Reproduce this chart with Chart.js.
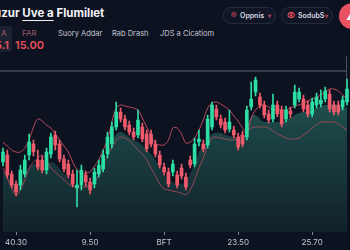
<!DOCTYPE html>
<html>
<head>
<meta charset="utf-8">
<script src="https://cdn.jsdelivr.net/npm/chart.js@4.4.1/dist/chart.umd.min.js"></script>
<style>
  html, body { margin: 0; padding: 0; }
  body { width: 350px; height: 250px; background: #0d1221; overflow: hidden; position: relative;
         font-family: "Inter", "Noto Sans", sans-serif; }
  .abs { position: absolute; white-space: nowrap; }
  #title { left: -6px; top: 6px; font-size: 11.5px; font-weight: 700; color: #f2f3f7; }
  #title u { text-decoration: underline; text-decoration-thickness: 1px; text-underline-offset: 3px; }
  .pill { position: absolute; top: 7px; height: 15px; border: 1px solid #262b3b; border-radius: 8px;
          background: #111627; font-size: 7px; font-weight: 600; color: #d8dbe4; }
  .pill span { position: absolute; top: 3px; }
  .menu { top: 29px; font-size: 7.5px; color: #c3c7d2; }
  #chartWrap { position: absolute; left: 0; top: 72px; width: 350px; height: 178px; }
</style>
</head>
<body>
<div class="abs" id="title">uzur <u>Uve a</u> Flumilıet</div>

<div class="abs" style="left:-8px;top:26px;width:20px;height:26px;background:#1b2131;border-radius:2px;"></div>
<div class="abs" style="left:1px;top:28px;font-size:8px;color:#9c5a6a;">A</div>
<div class="abs" style="left:-5px;top:38px;font-size:11px;font-weight:600;color:#e8505f;">5.1</div>
<div class="abs" style="left:22px;top:28px;font-size:8px;color:#9c5a6a;">FAR</div>
<div class="abs" style="left:15px;top:38px;font-size:11px;font-weight:600;color:#e8505f;">15.00</div>
<div class="abs menu" style="left:58px;">Suory Addar</div>
<div class="abs menu" style="left:112px;">Rab Drash</div>
<div class="abs menu" style="left:160px;">JDS a Cicatiom</div>

<div class="pill" style="left:223px;width:51px;">
  <span style="left:7px;top:2px;color:#e8505f;font-size:8px;">&#x2117;</span>
  <span style="left:16px;">Oppnis</span>
  <span style="left:44px;color:#b8455a;font-size:6px;top:4px;">&#9662;</span>
</div>
<div class="pill" style="left:281px;width:50px;">
  <span style="left:5px;top:2px;color:#e8505f;font-size:8px;">&#x29BF;</span>
  <span style="left:16px;">SodubS</span>
  <span style="left:43px;color:#b8455a;font-size:6px;top:4px;">&#9662;</span>
</div>
<div class="abs" style="left:339px;top:3px;width:26px;height:26px;border-radius:13px;background:#ea5262;"></div>
<div class="abs" style="left:346px;top:10px;font-size:10px;color:#ffffff;font-weight:700;">&#9650;</div>

<div class="abs" style="left:0;top:70px;width:347px;height:2px;background:#363b4a;"></div>
<div class="abs" style="left:346px;top:56px;width:1px;height:44px;background:#4a4f5e;"></div>

<div id="chartWrap"><canvas id="candles" width="350" height="178"></canvas></div>

<script>
const tickLabels = {3: '40.30', 20: '9.50', 37: 'BFT', 54: '23.50', 71: '25.70'};

const opens  = [70,77,58,48,47,58,77,88,72,72,62,78,97,88,73,68,58,44,47,57,
                50,48,58,63,78,88,105,120,113,107,100,97,105,98,98,88,77,65,60,60,
                57,64,55,72,68,90,88,87,105,123,113,110,103,102,95,97,95,125,140,135,
                127,118,113,127,122,113,121,127,133,133,127,118,127,128,133,138,127,127,125,130];
const closes = [80,57,47,40,62,72,90,80,65,62,80,95,87,73,63,57,48,47,62,50,
                42,60,67,77,95,105,120,113,105,100,95,112,93,83,88,78,67,60,48,68,
                47,56,45,67,88,93,83,113,127,115,107,102,110,97,85,88,122,133,152,127,
                117,112,127,118,108,122,118,140,140,123,118,130,135,132,141,123,120,120,132,143];
const highs  = [84,82,61,51,67,77,98,92,82,76,84,99,101,92,77,72,62,62,67,61,
                54,64,72,82,100,110,130,124,117,111,104,122,109,102,102,92,81,69,64,72,
                61,68,59,76,94,102,92,117,130,127,117,114,122,106,99,101,126,150,155,139,
                131,122,138,131,126,126,125,147,144,137,131,134,139,142,145,142,131,131,136,153];
const lows   = [66,54,44,36,42,55,72,76,62,59,58,74,82,70,60,54,45,25,42,46,
                38,44,55,60,74,84,102,110,102,97,92,94,90,80,85,75,64,57,45,56,
                44,53,42,64,65,86,80,84,102,112,104,99,100,94,82,85,92,122,136,124,
                114,109,110,115,105,110,114,124,130,120,115,115,124,125,130,120,117,117,122,127];

const upperBand = [90,86,82,80,80,84,92,105,113,111,107,104,98,92,86,80,70,62,58,59,
                   60,66,72,82,92,110,124,127,126,125,124,122,114,105,96,88,87,87,92,104,
                   104,98,89,90,94,102,112,124,129,130,128,125,122,116,111,104,100,114,122,126,
                   127,125,122,122,122,122,124,126,127,129,131,133,135,137,140,143,143,141,137,133];
const lowerBand = [64,54,44,37,42,52,64,70,74,77,72,64,60,56,52,48,46,45,45,45,
                   46,50,57,67,77,84,92,95,94,91,87,82,78,72,64,56,48,43,42,41,
                   40,39,37,42,52,64,74,86,94,95,94,93,92,92,94,98,101,104,105,105,
                   105,104,101,98,96,94,93,93,94,97,100,104,107,110,110,110,110,108,105,102];
const volumeArea = [62,56,50,46,50,56,64,68,66,64,66,70,68,63,58,54,50,46,46,48,
                    49,52,58,65,78,90,98,100,98,95,92,90,87,82,78,72,65,58,52,50,
                    48,48,50,58,68,80,86,92,98,99,99,97,96,95,94,95,100,116,117,113,
                    110,110,110,110,110,112,114,117,119,120,120,122,124,126,127,127,128,126,124,125];

const labels = opens.map((_, i) => tickLabels[i] || '');
const GREEN = '#2ddfa4';
const RED = '#ef5b6b';
const colors = opens.map((o, i) => closes[i] >= o ? GREEN : RED);

const ctx = document.getElementById('candles');

new Chart(ctx, {
  data: {
    labels: labels,
    datasets: [
      {
        type: 'bar',
        data: opens.map((o, i) => [o, closes[i]]),
        backgroundColor: colors,
        barThickness: 3,
        minBarLength: 1,
        grouped: false,
        order: 0
      },
      {
        type: 'bar',
        data: lows.map((l, i) => [l, highs[i]]),
        backgroundColor: colors,
        barThickness: 1,
        grouped: false,
        order: 1
      },
      {
        type: 'line',
        data: upperBand,
        borderColor: 'rgba(214,82,100,0.85)',
        borderWidth: 1,
        pointRadius: 0,
        tension: 0.35,
        order: 2
      },
      {
        type: 'line',
        data: lowerBand,
        borderColor: 'rgba(214,82,100,0.65)',
        borderWidth: 1,
        pointRadius: 0,
        tension: 0.35,
        order: 3
      },
      {
        type: 'line',
        data: volumeArea,
        borderWidth: 0,
        pointRadius: 0,
        tension: 0.35,
        fill: 'start',
        backgroundColor: function (c) {
          const area = c.chart.chartArea;
          if (!area) return 'rgba(30,80,78,0.6)';
          const g = c.chart.ctx.createLinearGradient(0, area.top, 0, area.bottom);
          g.addColorStop(0, 'rgba(42,112,102,0.8)');
          g.addColorStop(0.45, 'rgba(30,78,76,0.75)');
          g.addColorStop(1, 'rgba(20,38,45,0.8)');
          return g;
        },
        order: 4
      }
    ]
  },
  options: {
    responsive: false,
    animation: false,
    layout: { padding: 0 },
    plugins: {
      legend: { display: false },
      tooltip: { enabled: false }
    },
    scales: {
      x: {
        type: 'category',
        offset: true,
        border: { display: false },
        grid: {
          offset: false,
          drawOnChartArea: false,
          drawTicks: true,
          tickLength: 3,
          color: function (c) { return c.tick && c.tick.label ? '#7e8494' : 'transparent'; }
        },
        ticks: {
          autoSkip: false,
          maxRotation: 0,
          padding: 3,
          color: '#c4c8d3',
          font: { family: 'Inter', size: 8 }
        },
        afterFit: function (s) { s.height = 18; }
      },
      y: {
        display: false,
        min: 0,
        max: 160
      }
    }
  }
});
</script>
</body>
</html>
